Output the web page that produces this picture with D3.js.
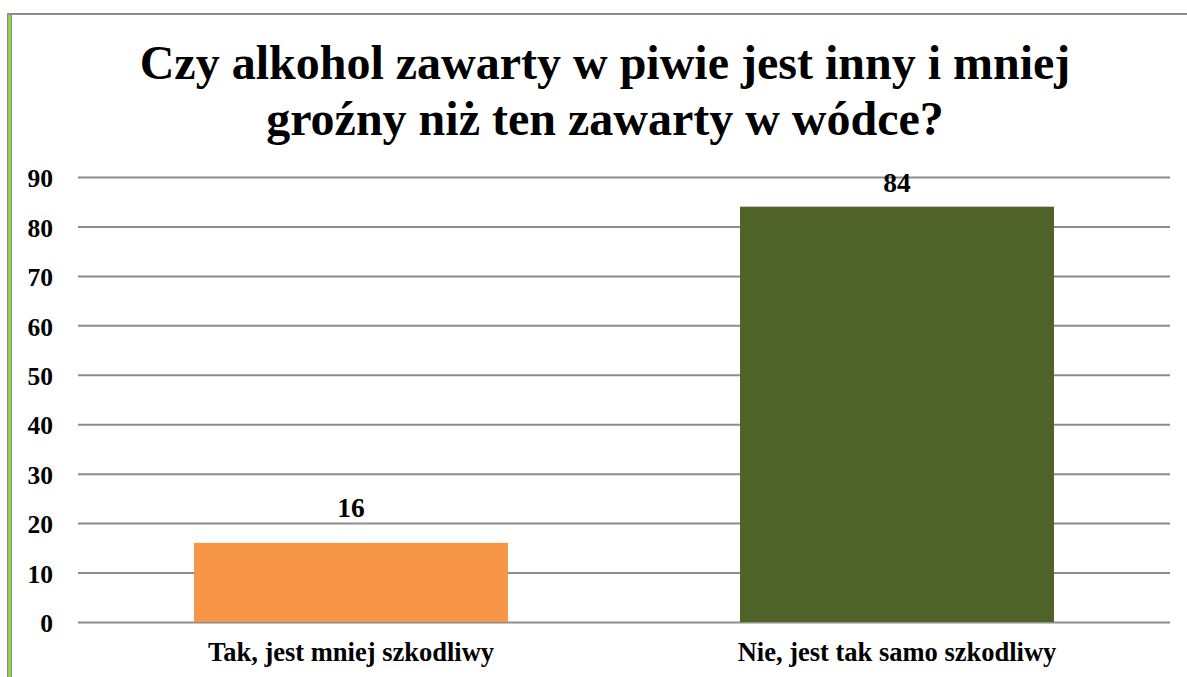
<!DOCTYPE html>
<meta charset="utf-8">
<body style="margin:0">
<script src="https://d3js.org/d3.v7.min.js"></script>
<script>
    // chart data
    var categories = ["Tak, jest mniej szkodliwy", "Nie, jest tak samo szkodliwy"];
    var values = [16, 84];
    var colors = ["#F79646", "#4F6228"];
    var yTicks = [0, 10, 20, 30, 40, 50, 60, 70, 80, 90];
    var titleLines = ["Czy alkohol zawarty w piwie jest inny i mniej", "groźny niż ten zawarty w wódce?"];

    var width = 1187, height = 677;
    var plot = { left: 78, right: 1170, top: 177, bottom: 622 };

    var svg = d3.select("body").append("svg")
        .attr("width", width)
        .attr("height", height)
        .attr("font-family", "Liberation Serif")
        .attr("font-weight", "bold");

    // frame: grey top line, green left edge with grey sides
    svg.append("line")
        .attr("x1", 7).attr("x2", width)
        .attr("y1", 14).attr("y2", 14)
        .attr("stroke", "#8c8c8c").attr("stroke-width", 2);
    svg.append("rect")
        .attr("x", 7).attr("y", 13).attr("width", 5).attr("height", height - 13)
        .attr("fill", "#8c8c8c");
    svg.append("rect")
        .attr("x", 8).attr("y", 15).attr("width", 3).attr("height", height - 15)
        .attr("fill", "#92D050");

    // title
    svg.append("g").selectAll("text")
        .data(titleLines)
        .enter().append("text")
        .attr("x", 605)
        .attr("y", function(d, i) { return 79 + i * 56; })
        .attr("text-anchor", "middle")
        .attr("font-size", 48)
        .text(function(d) { return d; });

    var y = d3.scaleLinear()
        .domain([0, 90])
        .range([plot.bottom, plot.top]);

    var x = d3.scaleBand()
        .domain(categories)
        .range([plot.left, plot.right])
        .paddingInner(0.425)
        .paddingOuter(0.2125);

    // gridlines
    var grid = svg.append("g")
        .attr("transform", "translate(" + plot.left + ",0)")
        .call(d3.axisRight(y).tickValues(yTicks).tickSize(plot.right - plot.left).tickFormat(""));
    grid.select(".domain").remove();
    grid.selectAll("line").attr("stroke", "#8c8c8c").attr("stroke-width", 2);

    // y tick labels
    svg.append("g").selectAll("text")
        .data(yTicks)
        .enter().append("text")
        .attr("x", 53)
        .attr("y", function(d) { return y(d); })
        .attr("dy", "0.4em")
        .attr("text-anchor", "end")
        .attr("font-size", 25.5)
        .text(function(d) { return d; });

    // bars
    svg.append("g").selectAll("rect")
        .data(values)
        .enter().append("rect")
        .attr("x", function(d, i) { return x(categories[i]); })
        .attr("y", function(d) { return y(d); })
        .attr("width", x.bandwidth())
        .attr("height", function(d) { return y(0) - y(d); })
        .attr("fill", function(d, i) { return colors[i]; });

    // value labels (kept inside the plot area at the top)
    svg.append("g").selectAll("text")
        .data(values)
        .enter().append("text")
        .attr("x", function(d, i) { return x(categories[i]) + x.bandwidth() / 2; })
        .attr("y", function(d) { return Math.max(y(d) - 26, plot.top + 15); })
        .attr("text-anchor", "middle")
        .attr("font-size", 27.5)
        .text(function(d) { return d; });

    // category labels
    svg.append("g").selectAll("text")
        .data(categories)
        .enter().append("text")
        .attr("x", function(d) { return x(d) + x.bandwidth() / 2; })
        .attr("y", 661)
        .attr("text-anchor", "middle")
        .attr("font-size", 26.5)
        .text(function(d) { return d; });
</script>
</body>
